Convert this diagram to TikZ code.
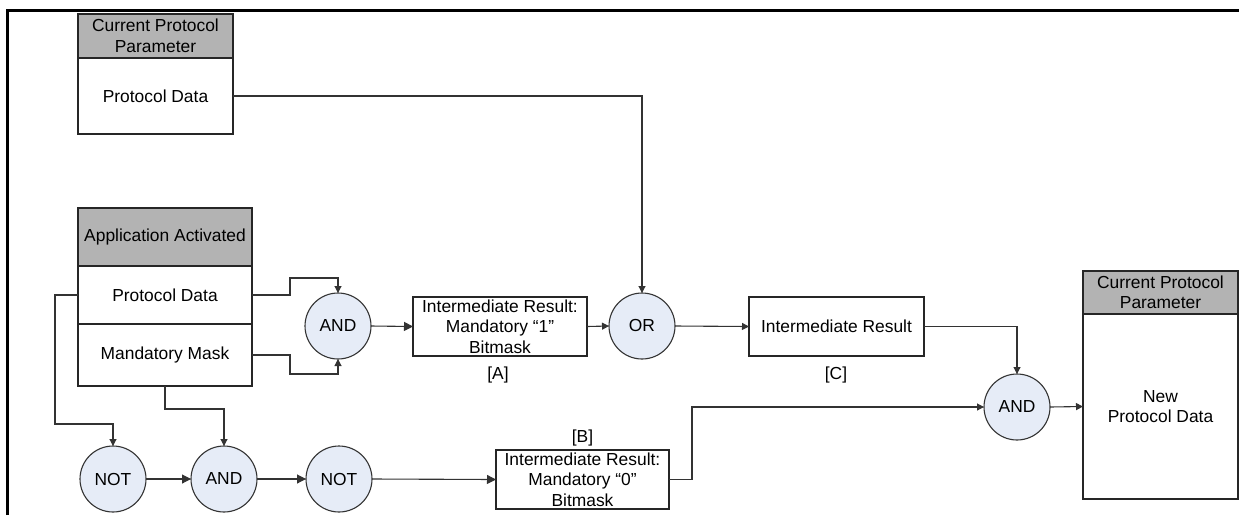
\documentclass[tikz,border=0pt]{standalone}
\usepackage{fontspec}
\setmainfont{Liberation Sans}
\usetikzlibrary{arrows.meta,calc}
\definecolor{gatefill}{HTML}{E6ECF7}
\definecolor{hdrfill}{HTML}{B3B3B3}
\definecolor{linec}{HTML}{333333}
\tikzset{
  every node/.style={font=\fontsize{17.4}{20.5}\selectfont, inner sep=0pt, outer sep=0pt},
  boxnode/.style={draw=black!85, line width=1.1pt, fill=white, rectangle, align=center},
  hdrnode/.style={boxnode, fill=hdrfill},
  gate/.style={circle, draw=black!80, line width=1.1pt, fill=gatefill, minimum size=66pt},
  conn/.style={draw=linec, line width=1.1pt},
  bigarr/.style={conn, -{Triangle[length=9pt,width=9pt]}},
  smallarr/.style={conn, -{Triangle[length=7pt,width=7pt]}},
  lbl/.style={}
}
\begin{document}
\begin{tikzpicture}[x=1pt,y=-1pt]
\useasboundingbox (0,0) rectangle (1239,515);
% frame
\draw[line width=3pt] (7,515) -- (7,10) -- (1239,10);

% top-left box
\node[hdrnode, minimum width=155pt, minimum height=44pt] (h1) at (155.5,36) {Current Protocol\\Parameter};
\node[boxnode, minimum width=155pt, minimum height=76pt] (b1) at (155.5,96) {Protocol Data};

% application activated box
\node[hdrnode, minimum width=174pt, minimum height=58pt] (h2) at (165,237) {Application Activated};
\node[boxnode, minimum width=174pt, minimum height=58pt] (pd) at (165,295) {Protocol Data};
\node[boxnode, minimum width=174pt, minimum height=62pt] (mm) at (165,355) {Mandatory Mask};

% gates
\node[gate] (and1) at (338,326) {AND};
\node[gate] (or1) at (642,326) {OR};
\node[gate] (and2) at (1017,407) {AND};
\node[gate] (not1) at (113,479) {NOT};
\node[gate] (and3) at (224,479) {AND};
\node[gate] (not2) at (339,479) {NOT};

% intermediate boxes
\node[boxnode, minimum width=174pt, minimum height=59pt] (ba) at (500,326.5) {Intermediate Result:\\Mandatory “1”\\Bitmask};
\node[boxnode, minimum width=175pt, minimum height=59pt] (bc) at (836.5,326.5) {Intermediate Result};
\node[boxnode, minimum width=173pt, minimum height=59pt] (bb) at (582.5,479.5) {Intermediate Result:\\Mandatory “0”\\Bitmask};

% labels
\node[lbl] (la) at (498,375) {[A]};
\node[lbl] (lc) at (836,375) {[C]};
\node[lbl] (lb) at (582.5,438) {[B]};

% right box
\node[hdrnode, minimum width=155pt, minimum height=43pt] (h3) at (1160.5,292.5) {Current Protocol\\Parameter};
\node[boxnode, minimum width=155pt, minimum height=185pt] (rb) at (1160.5,406.5) {New\\Protocol Data};

% connectors
\draw[smallarr] (b1.east) -| (or1.north);
\draw[smallarr] (pd.east) -- ++(38,0) |- ($(and1.north)+(0,-15)$) -- (and1.north);
\draw[smallarr] (mm.east) -- ++(38,0) |- ($(and1.south)+(0,15)$) -- (and1.south);
\draw[bigarr] (and1.east) -- (ba.west);
\draw[smallarr] (ba.east) -- (or1.west);
\draw[smallarr] (or1.east) -- (bc.west);
\draw[smallarr] (bc.east) -| (and2.north);
\draw[smallarr] (bb.east) -- ++(23,0) |- (and2.west);
\draw[smallarr] (and2.east) -- (rb.west);
\draw[smallarr] (pd.west) -- ++(-23,0) |- ($(not1.north)+(0,-22)$) -- (not1.north);
\draw[smallarr] (mm.south) -- ++(0,23) -| (and3.north);
\draw[bigarr] (not1.east) -- (and3.west);
\draw[bigarr] (and3.east) -- (not2.west);
\draw[bigarr] (not2.east) -- (bb.west);
\end{tikzpicture}
\end{document}
